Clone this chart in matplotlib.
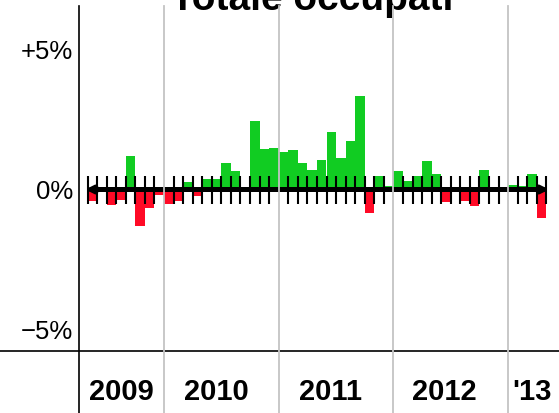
import numpy as np
import matplotlib
matplotlib.use("Agg")
import matplotlib.pyplot as plt

plt.rcParams['font.family'] = ['Liberation Sans', 'DejaVu Sans']

# monthly change, May 2009 .. Apr 2013 (%)
vals_2009 = [-0.40, 0.00, -0.55, -0.36, 1.20, -1.30, -0.67, -0.18]
vals_2010 = [-0.52, -0.40, 0.27, -0.22, 0.37, 0.37, 0.95, 0.65, 0.00, 2.43, 1.45, 1.48]
vals_2011 = [1.33, 1.42, 0.94, 0.71, 1.05, 2.04, 1.11, 1.72, 3.33, -0.85, 0.47, 0.14]
vals_2012 = [0.65, 0.31, 0.49, 1.03, 0.55, -0.46, 0.00, -0.40, -0.58, 0.71, 0.00, 0.00]
vals_2013 = [0.16, 0.14, 0.55, -1.02]
values = np.array(vals_2009 + vals_2010 + vals_2011 + vals_2012 + vals_2013)

year_labels = ['2009', '2010', '2011', '2012', "'13"]
year_starts = [8, 20, 32, 44]          # month index where a new year begins
ytick_vals = [5, 0, -5]
ytick_labels = ['+5%', '0%', '\u22125%']
title = 'Totale occupati'

GREEN = '#11cc22'
RED = '#ff0a26'
GRID = '#c4c4c4'

fig = plt.figure(figsize=(5.59, 4.14), dpi=100)
ax = fig.add_axes([0, 0, 1, 1])
ax.set_axis_off()
# pixel mapping: x = 87.6 + 9.556*k, y = 190.5 - 28*v
ax.set_xlim(-87.6 / 9.556, (559 - 87.6) / 9.556)
ax.set_ylim((190.5 - 414) / 28, 190.5 / 28)

n = len(values)
k = np.arange(n)
colors = [GREEN if v >= 0 else RED for v in values]
ax.bar(k, values, width=1.0, align='edge', color=colors, linewidth=0, zorder=2)

# zero axis with arrows
ax.annotate('', xy=(n + 0.3, 0), xytext=(-0.25, 0),
            arrowprops=dict(arrowstyle='<|-|>', lw=3.6, color='black',
                            mutation_scale=9, shrinkA=0, shrinkB=0),
            zorder=3)
tick_pos = [i for i in range(n + 1) if i not in year_starts]
ax.vlines(tick_pos, -0.52, 0.48, color='black', lw=1.5, zorder=4)

# frame lines
top_frac = (414 - 7) / 414
ax.axvline(-0.9, ymin=0, ymax=top_frac, color='black', lw=1.2, zorder=5)
ax.axhline((190.5 - 352) / 28, color='black', lw=1.2, zorder=5)
for ys in year_starts:
    ax.axvline(ys, ymin=0, ymax=top_frac, color=GRID, lw=1.3, zorder=6)

# y labels
for v, lab in zip(ytick_vals, ytick_labels):
    ax.text(-1.55, v - 0.3, lab, ha='right', va='baseline', fontsize=18.5)

# year labels
label_x = [3.5, 13.5, 25.4, 37.3, 46.5]
for x, lab in zip(label_x, year_labels):
    ax.text(x, (190.5 - 400) / 28, lab, ha='center', va='baseline',
            fontsize=21, fontweight='bold')

ax.text(23.5, (190.5 - 10) / 28, title, ha='center', va='baseline',
        fontsize=28, fontweight='bold', clip_on=False)

fig.savefig('out.png', dpi=100)
